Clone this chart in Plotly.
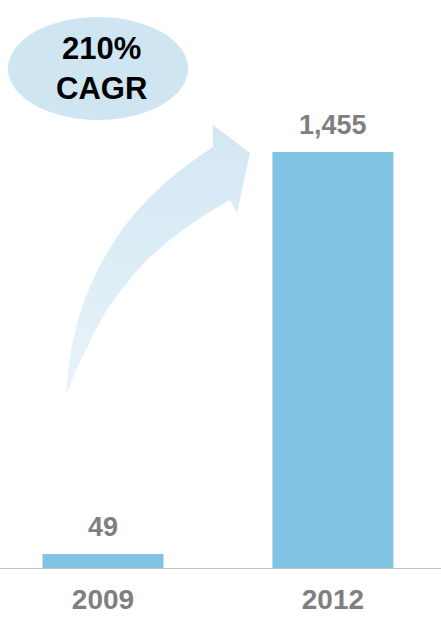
import plotly.graph_objects as go

# Data
years = ["2009", "2012"]
values = [49, 1455]
cagr_text = "210%<br>CAGR"

# Colours
BAR_COLOR = "#80c3e2"
LABEL_GREY = "#7f7f7f"
AXIS_GREY = "#c4c4c4"
BUBBLE_COLOR = "#cfe5f1"

W, H = 441, 619
FONT = "Liberation Sans, Arial, sans-serif"

# Curved growth arrow outline, in page pixels (x right, y down)
arrow_x = [66, 68, 72, 78, 86, 96, 108, 121, 135, 150, 166, 182, 198, 213,
           213, 250, 237, 230, 216, 200, 183, 166, 150, 134, 119, 105, 93, 83, 75, 70, 66]
arrow_y = [393, 370, 345, 320, 296, 273, 251, 231, 213, 197, 182, 169, 157, 147,
           125, 153, 213, 200, 208, 218, 230, 243, 257, 274, 293, 313, 335, 355, 372, 386, 393]

base_px = 568          # baseline position from top
top_px = 152           # top of the tallest bar from top
y_max = values[1] * base_px / (base_px - top_px)

fig = go.Figure()

fig.add_trace(go.Bar(
    x=years, y=values,
    marker=dict(color=BAR_COLOR, line=dict(width=0)),
    width=0.526,
    hoverinfo="skip",
))

# value labels above the bars (category index positions)
for i, v in enumerate(values):
    fig.add_annotation(
        x=i, y=v, xref="x", yref="y",
        text=f"{v:,}", showarrow=False,
        yanchor="bottom", yshift=10,
        font=dict(family=FONT, size=27, color=LABEL_GREY, weight="bold"),
    )

# growth arrow on a pixel-space overlay
fig.add_trace(go.Scatter(
    x=arrow_x, y=arrow_y, xaxis="x2", yaxis="y2",
    mode="lines", line=dict(width=0, color="rgba(0,0,0,0)"),
    fill="toself",
    fillgradient=dict(
        type="vertical", start=393, stop=125,
        colorscale=[[0, "#e8f3f9"], [1, "#d2e7f3"]],
    ),
    hoverinfo="skip", showlegend=False,
))

# CAGR bubble
fig.add_shape(
    type="circle", xref="x2", yref="y2",
    x0=8, x1=188, y0=17, y1=120,
    fillcolor=BUBBLE_COLOR, line=dict(width=0), layer="below",
)
fig.add_annotation(
    x=101, y=68, xref="x2", yref="y2",
    text=cagr_text, showarrow=False,
    font=dict(family=FONT, size=31, color="#000000", weight="bold"),
)

fig.update_layout(
    width=W, height=H,
    margin=dict(l=0, r=0, t=0, b=0),
    paper_bgcolor="white", plot_bgcolor="rgba(0,0,0,0)",
    showlegend=False,
    xaxis=dict(
        type="category", range=[-0.448, 1.470],
        domain=[0, 1], anchor="y",
        showline=True, linecolor=AXIS_GREY, linewidth=1,
        showgrid=False, zeroline=False, ticks="",
        tickfont=dict(family=FONT, size=28, color=LABEL_GREY, weight="bold"),
        ticklabelstandoff=6,
        fixedrange=True,
    ),
    yaxis=dict(
        range=[0, y_max], domain=[(H - base_px) / H, 1],
        visible=False, fixedrange=True,
    ),
    xaxis2=dict(range=[0, W], domain=[0, 1], anchor="y2",
                visible=False, fixedrange=True),
    yaxis2=dict(range=[H, 0], domain=[0, 1], anchor="x2",
                visible=False, fixedrange=True),
)

fig.write_html("out.html")
